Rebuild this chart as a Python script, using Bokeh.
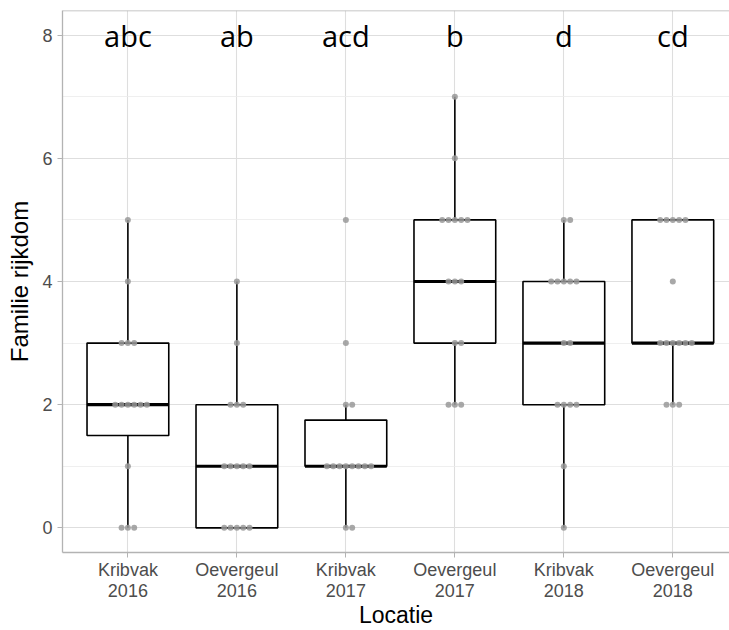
import numpy as np
from bokeh.plotting import figure
from bokeh.models import Range1d, FixedTicker, Span, ColumnDataSource
from bokeh.core.properties import value
from bokeh.embed import file_html
from bokeh.resources import INLINE

# ---- data ----
categories = ["Kribvak\n2016", "Oevergeul\n2016", "Kribvak\n2017",
              "Oevergeul\n2017", "Kribvak\n2018", "Oevergeul\n2018"]
letters = ["abc", "ab", "acd", "b", "d", "cd"]
letter_level = 8

kribvak_2016 = [0, 0, 0, 1, 2, 2, 2, 2, 2, 2, 3, 3, 3, 4, 5]
oevergeul_2016 = [0, 0, 0, 0, 0, 1, 1, 1, 1, 1, 2, 2, 2, 3, 4]
kribvak_2017 = [0, 0, 1, 1, 1, 1, 1, 1, 1, 1, 2, 2, 3, 5]
oevergeul_2017 = [2, 2, 2, 3, 3, 4, 4, 4, 5, 5, 5, 5, 5, 6, 7]
kribvak_2018 = [0, 1, 2, 2, 2, 2, 3, 3, 4, 4, 4, 4, 4, 5, 5]
oevergeul_2018 = [2, 2, 2, 3, 3, 3, 3, 3, 3, 4, 5, 5, 5, 5, 5]

series = [kribvak_2016, oevergeul_2016, kribvak_2017,
          oevergeul_2017, kribvak_2018, oevergeul_2018]

y_major = [0, 2, 4, 6, 8]
y_minor = [1, 3, 5, 7]

# ---- derived ----
pos = list(range(1, len(categories) + 1))
box_w = 0.75
dot_step = 0.058

q1, med, q3, lo, hi = [], [], [], [], []
px, py = [], []
for xc, vals in zip(pos, series):
    a = np.array(vals, dtype=float)
    a1, a2, a3 = np.percentile(a, [25, 50, 75])
    iqr = a3 - a1
    q1.append(a1); med.append(a2); q3.append(a3)
    lo.append(a[a >= a1 - 1.5 * iqr].min())
    hi.append(a[a <= a3 + 1.5 * iqr].max())
    for v in sorted(set(vals)):
        n = vals.count(v)
        offs = np.arange(n) - (n - 1) // 2
        for o in offs:
            px.append(xc + o * dot_step)
            py.append(v)

box_src = ColumnDataSource(dict(x=pos, q1=q1, q3=q3, med=med, lo=lo, hi=hi,
                                x0=[x - box_w / 2 for x in pos],
                                x1=[x + box_w / 2 for x in pos]))

p = figure(width=729, height=630, x_range=Range1d(0.4, 6.52), y_range=Range1d(-0.4, 8.4),
           output_backend="svg", toolbar_location=None,
           min_border_left=62, min_border_right=0, min_border_top=10, min_border_bottom=0)
p.outline_line_color = None
p.background_fill_color = "white"

# grids
p.xgrid.ticker = FixedTicker(ticks=pos)
p.xgrid.grid_line_color = "#DEDEDE"
p.xgrid.grid_line_width = 1.1
p.ygrid.ticker = FixedTicker(ticks=y_major, minor_ticks=y_minor)
p.ygrid.grid_line_color = "#DEDEDE"
p.ygrid.grid_line_width = 1.1
p.ygrid.minor_grid_line_color = "#EBEBEB"
p.ygrid.minor_grid_line_width = 0.8

# axes
p.xaxis.ticker = FixedTicker(ticks=pos)
p.xaxis.major_label_overrides = {x: c for x, c in zip(pos, categories)}
p.yaxis.ticker = FixedTicker(ticks=y_major)
for ax in (p.xaxis[0], p.yaxis[0]):
    ax.axis_line_color = "#B3B3B3"
    ax.axis_line_width = 1.3
    ax.major_tick_line_color = "#B3B3B3"
    ax.major_tick_line_width = 1
    ax.major_tick_in = 0
    ax.major_tick_out = 5
    ax.minor_tick_in = 0
    ax.minor_tick_out = 0
    ax.major_label_text_font = "Liberation Sans"
    ax.major_label_text_font_size = "18px"
    ax.major_label_text_color = "#4D4D4D"
    ax.major_label_text_line_height = 1.05
    ax.axis_label_text_font = "Liberation Sans"
    ax.axis_label_text_font_style = "normal"
    ax.axis_label_text_color = "black"
    ax.axis_label_text_line_height = 1.0
p.xaxis.axis_label = "Locatie"
p.yaxis.axis_label = "Familie rijkdom"
p.xaxis.axis_label_text_font_size = "23px"
p.yaxis.axis_label_text_font_size = "24px"
p.xaxis.major_label_standoff = 2
p.xaxis.axis_label_standoff = -2
p.yaxis.major_label_standoff = 5
p.yaxis.axis_label_standoff = 6

p.add_layout(Span(location=8.4, dimension="width", line_color="#B3B3B3", line_width=1.3))

# whiskers
p.segment(x0="x", y0="q3", x1="x", y1="hi", source=box_src, line_color="black", line_width=1.6)
p.segment(x0="x", y0="q1", x1="x", y1="lo", source=box_src, line_color="black", line_width=1.6)
# boxes
p.quad(left="x0", right="x1", bottom="q1", top="q3", source=box_src,
       fill_color="white", line_color="black", line_width=1.6)
# medians
p.segment(x0="x0", y0="med", x1="x1", y1="med", source=box_src, line_color="black", line_width=3.2)

# points
p.scatter(px, py, size=6, fill_color="#999999", line_color=None, fill_alpha=0.85)

# letters
p.text(x=pos, y=[letter_level] * len(pos), text=letters, text_font=value("Open Sans"),
       text_font_size="29px", text_align="center", text_baseline="middle", text_color="black")

open("out.html", "w").write(file_html(p, INLINE))
